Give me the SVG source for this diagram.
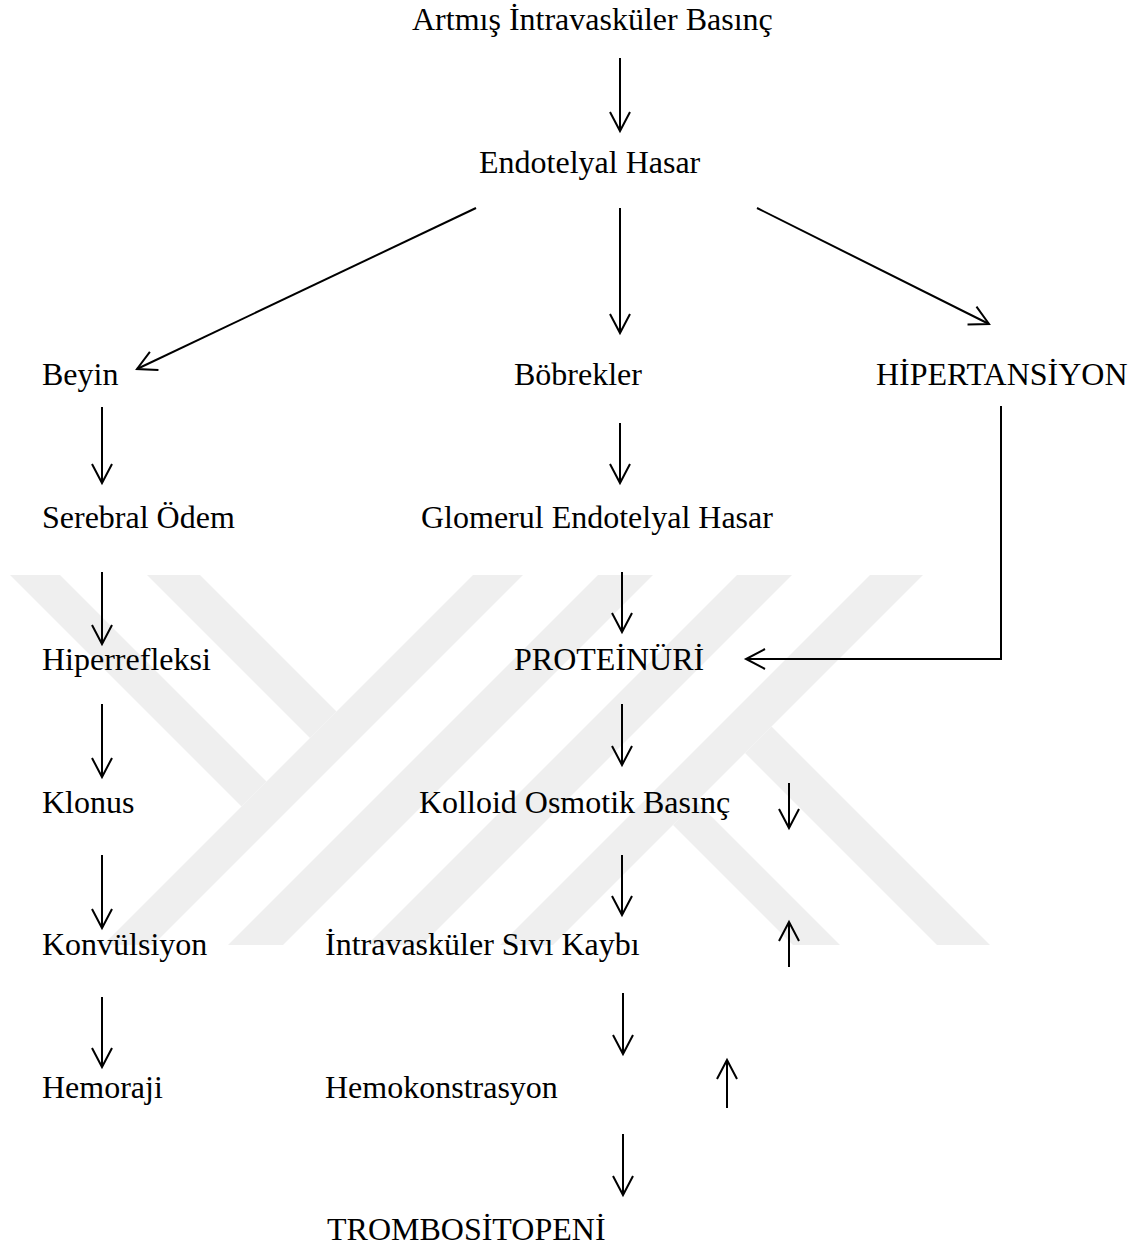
<svg xmlns="http://www.w3.org/2000/svg" width="1147" height="1249" viewBox="0 0 1147 1249">
<style>
.t{font-family:"Liberation Serif","Times New Roman",serif;font-size:32px;fill:#000}
.c{stroke:#000;stroke-width:2;fill:none}
.wm{fill:#efefef;stroke:none}
</style>
<defs>
<marker id="ah" markerUnits="userSpaceOnUse" markerWidth="30" markerHeight="30" refX="0" refY="0" orient="auto" overflow="visible">
<path d="M-19,-10 L0,0 L-19,10" fill="none" stroke="#000" stroke-width="2"/>
</marker>
</defs>
<rect width="1147" height="1249" fill="#fff"/>
<g id="watermark">
<polygon class="wm" points="10,575 60,575 266.5,781.5 241.5,806.5"/>
<polygon class="wm" points="147,575 200,575 336.5,711.5 310,738"/>
<polygon class="wm" points="473,575 523,575 153,945 103,945"/>
<polygon class="wm" points="598,575 653,575 283,945 228,945"/>
<polygon class="wm" points="737,575 792,575 422,945 367,945"/>
<polygon class="wm" points="870,575 923,575 553,945 500,945"/>
<polygon class="wm" points="771.5,726.5 990,945 937,945 745,753"/>
<polygon class="wm" points="696.5,801.5 840,945 793,945 673,825"/>
</g>
<g id="connectors">
<line class="c" x1="620" y1="58" x2="620" y2="131" marker-end="url(#ah)"/>
<line class="c" x1="476" y1="208" x2="137" y2="369" marker-end="url(#ah)"/>
<line class="c" x1="620" y1="208" x2="620" y2="333" marker-end="url(#ah)"/>
<line class="c" x1="757" y1="208" x2="989" y2="324" marker-end="url(#ah)"/>
<line class="c" x1="102" y1="407" x2="102" y2="483" marker-end="url(#ah)"/>
<line class="c" x1="620" y1="423" x2="620" y2="483" marker-end="url(#ah)"/>
<line class="c" x1="102" y1="572" x2="102" y2="644" marker-end="url(#ah)"/>
<line class="c" x1="622" y1="572" x2="622" y2="632" marker-end="url(#ah)"/>
<polyline class="c" points="1001,406 1001,659 746,659" marker-end="url(#ah)"/>
<line class="c" x1="102" y1="704" x2="102" y2="777" marker-end="url(#ah)"/>
<line class="c" x1="622" y1="704" x2="622" y2="765" marker-end="url(#ah)"/>
<line class="c" x1="789" y1="783" x2="789" y2="828" marker-end="url(#ah)"/>
<line class="c" x1="102" y1="855" x2="102" y2="928" marker-end="url(#ah)"/>
<line class="c" x1="622" y1="855" x2="622" y2="915" marker-end="url(#ah)"/>
<line class="c" x1="789" y1="967" x2="789" y2="922" marker-end="url(#ah)"/>
<line class="c" x1="102" y1="997" x2="102" y2="1067" marker-end="url(#ah)"/>
<line class="c" x1="623" y1="993" x2="623" y2="1054" marker-end="url(#ah)"/>
<line class="c" x1="727" y1="1108" x2="727" y2="1060" marker-end="url(#ah)"/>
<line class="c" x1="623" y1="1134" x2="623" y2="1195" marker-end="url(#ah)"/>
</g>
<g id="n-artmis"><text class="t" x="412" y="30">Artmış İntravasküler Basınç</text></g>
<g id="n-endotelyal"><text class="t" x="479" y="173">Endotelyal Hasar</text></g>
<g id="n-beyin"><text class="t" x="42" y="385">Beyin</text></g>
<g id="n-bobrekler"><text class="t" x="514" y="385">Böbrekler</text></g>
<g id="n-hipertansiyon"><text class="t" x="876" y="385">HİPERTANSİYON</text></g>
<g id="n-serebral"><text class="t" x="42" y="528">Serebral Ödem</text></g>
<g id="n-glomerul"><text class="t" x="421" y="528">Glomerul Endotelyal Hasar</text></g>
<g id="n-hiperrefleksi"><text class="t" x="42" y="670">Hiperrefleksi</text></g>
<g id="n-proteinuri"><text class="t" x="514" y="670">PROTEİNÜRİ</text></g>
<g id="n-klonus"><text class="t" x="42" y="813">Klonus</text></g>
<g id="n-kolloid"><text class="t" x="419" y="813">Kolloid Osmotik Basınç</text></g>
<g id="n-konvulsiyon"><text class="t" x="42" y="955">Konvülsiyon</text></g>
<g id="n-intravaskuler"><text class="t" x="325" y="955">İntravasküler Sıvı Kaybı</text></g>
<g id="n-hemoraji"><text class="t" x="42" y="1098">Hemoraji</text></g>
<g id="n-hemokonstrasyon"><text class="t" x="325" y="1098">Hemokonstrasyon</text></g>
<g id="n-trombositopeni"><text class="t" x="327" y="1240">TROMBOSİTOPENİ</text></g>
</svg>
